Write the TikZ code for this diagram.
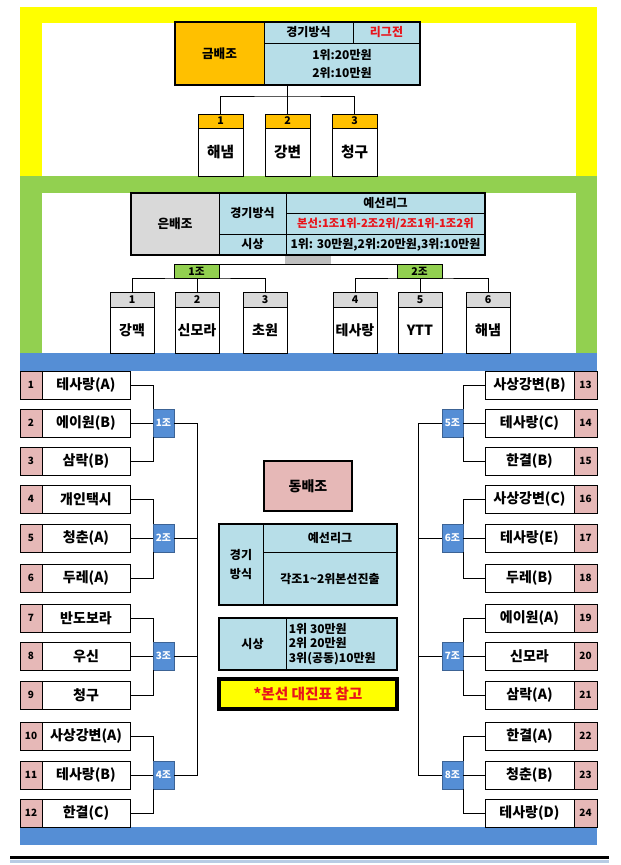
\documentclass[tikz,border=0pt]{standalone}
\usepackage{fontspec}
\setmainfont{Noto Sans CJK KR}
\usetikzlibrary{calc}
\definecolor{cyel}{HTML}{FFFF00}
\definecolor{cgrn}{HTML}{92D050}
\definecolor{cblu}{HTML}{558ED5}
\definecolor{corg}{HTML}{FFC000}
\definecolor{clb}{HTML}{B7DEE8}
\definecolor{cgry}{HTML}{D9D9D9}
\definecolor{cgrytwo}{HTML}{BFBFBF}
\definecolor{cpnk}{HTML}{E6B8B7}
\definecolor{cred}{HTML}{E8141B}
\definecolor{cline}{HTML}{B8CCE4}
\begin{document}
\begin{tikzpicture}[x=0.75pt,y=-0.75pt,
  rc/.style n args={4}{at={({((#1)+(#3))/2},{((#2)+(#4))/2})}, minimum width={((#3)-(#1))*0.75pt}, minimum height={((#4)-(#2))*0.75pt}},
  base/.style={inner sep=0pt, outer sep=0pt, anchor=center},
  tcell/.style={base, draw=black, line width=0.75pt, fill=clb, font=\bfseries\fontsize{9}{14}\selectfont},
  outerb/.style={draw=black, line width=1.8pt},
  conn/.style={draw=black, line width=0.75pt},
  hdrgold/.style={base, draw=black, line width=0.75pt, fill=corg, font=\bfseries\fontsize{8}{9}\selectfont},
  hdrsil/.style={base, draw=black, line width=0.75pt, fill=cgry, font=\bfseries\fontsize{8}{9}\selectfont},
  bodybox/.style={base, draw=black, line width=0.75pt, fill=white, font=\bfseries\fontsize{11}{12}\selectfont},
  numbox/.style={base, draw=black, line width=0.75pt, fill=cpnk, font=\bfseries\fontsize{7.5}{8}\selectfont},
  namebox/.style={base, draw=black, line width=0.75pt, fill=white, font=\bfseries\fontsize{10.5}{12}\selectfont},
  grpblue/.style={base, fill=cblu, draw=cblu!70!black, line width=0.5pt, text=white, font=\bfseries\fontsize{7.5}{8}\selectfont},
  grpgreen/.style={base, fill=cgrn, draw=black, line width=0.75pt, font=\bfseries\fontsize{8}{9}\selectfont}]
\useasboundingbox (0,0) rectangle (621,865);
% ---------- backgrounds ----------
\fill[white] (0,0) rectangle (621,865);
\fill[cyel] (20,7) rectangle (597,176);
\fill[white] (42,23) rectangle (576,176);
\fill[cgrn] (20,176) rectangle (597,353);
\fill[white] (42,193) rectangle (576,353);
\fill[cblu] (20,353) rectangle (597,371);
\fill[cblu] (20,827) rectangle (597,845);
\fill[black] (10,856) rectangle (609,859);
\fill[cline] (10,860) rectangle (609,863);
% ---------- gold ----------
\node[tcell, fill=corg, font=\bfseries\fontsize{9.5}{11}\selectfont, rc={175}{22}{264}{85}] (gT) {금배조};
\node[tcell, rc={264}{22}{353}{43}] (gM) {경기방식};
\node[tcell, text=cred, rc={353}{22}{420}{43}] (gL) {리그전};
\node[tcell, align=center, rc={264}{43}{420}{85}] (gP) {1위:20만원\\2위:10만원};
\draw[outerb] (gT.north west) rectangle (gP.south east);
\foreach \k/\x/\nm in {1/198/해냄,2/265/강변,3/332/청구}{
  \node[hdrgold, rc={\x}{114}{\x+45}{128}] (B\k h) {\k};
  \node[bodybox, rc={\x}{128}{\x+45}{176}] (B\k) {\nm};
}
\coordinate (gJ) at (287.5,96);
\draw[conn] (B1h.north) |- (gJ) -| (B3h.north);
\draw[conn] (B2h.north) -- (B2h.north |- gP.south);
% ---------- silver ----------
\node[tcell, fill=cgry, font=\bfseries\fontsize{9.5}{11}\selectfont, rc={131}{193}{219}{255}] (sT) {은배조};
\node[tcell, rc={219}{193}{286}{234}] (sM) {경기방식};
\node[tcell, rc={286}{193}{485}{213}] (sY) {예선리그};
\node[tcell, text=cred, font=\bfseries\fontsize{8.5}{10}\selectfont, rc={286}{213}{485}{234}] (sB) {본선:1조1위-2조2위/2조1위-1조2위};
\node[tcell, rc={219}{234}{286}{255}] (sS) {시상};
\node[tcell, rc={286}{234}{485}{255}] (sP) {1위: 30만원,2위:20만원,3위:10만원};
\draw[outerb] (sT.north west) rectangle (sP.south east);
\node[base, fill=cgrytwo, rc={285}{256}{331}{264}] (sG) {};
\node[grpgreen, rc={174}{264}{219}{278}] (S1g) {1조};
\node[grpgreen, rc={397}{264}{442}{278}] (S2g) {2조};
\foreach \k/\x/\nm in {1/110/강맥,2/175/신모라,3/243/초원,4/333/테사랑,5/398/YTT,6/466/해냄}{
  \node[hdrsil, rc={\x}{292}{\x+44}{307}] (SB\k h) {\k};
  \node[bodybox, font=\bfseries\fontsize{10.5}{12}\selectfont, rc={\x}{307}{\x+44}{353}] (SB\k) {\nm};
}
\draw[conn] (S1g.north east) -- (S2g.north west);
\draw[conn] (SB1h.north) |- (S1g.south) -| (SB3h.north);
\draw[conn] (SB2h.north) -- (SB2h.north |- S1g.south);
\draw[conn] (SB4h.north) |- (S2g.south) -| (SB6h.north);
\draw[conn] (SB5h.north) -- (SB5h.north |- S2g.south);
% ---------- bronze rows ----------
\foreach \i/\t/\nm in {1/371/테사랑(A),2/409/에이원(B),3/447/삼락(B),4/485/개인택시,5/524/청춘(A),6/564/두레(A),7/604/반도보라,8/642/우신,9/681/청구,10/722/사상강변(A),11/761/테사랑(B),12/799/한결(C)}{
  \node[numbox, rc={20}{\t}{42}{\t+28}] (N\i) {\i};
  \node[namebox, rc={42}{\t}{130}{\t+28}] (L\i) {\nm};
}
\foreach \i/\t/\nm in {13/371/사상강변(B),14/409/테사랑(C),15/447/한결(B),16/485/사상강변(C),17/524/테사랑(E),18/564/두레(B),19/604/에이원(A),20/642/신모라,21/681/삼락(A),22/722/한결(A),23/761/청춘(B),24/799/테사랑(D)}{
  \node[namebox, rc={485}{\t}{574}{\t+28}] (R\i) {\nm};
  \node[numbox, rc={574}{\t}{597}{\t+28}] (N\i) {\i};
}
\foreach \g/\t in {1/409,2/524,3/642,4/761}{
  \node[grpblue, rc={153}{\t}{174}{\t+28}] (G\g) {\g{}조};
}
\foreach \g/\t in {5/409,6/524,7/642,8/761}{
  \node[grpblue, rc={442}{\t}{463}{\t+28}] (G\g) {\g{}조};
}
\foreach \g/\a/\b/\c in {1/1/2/3,2/4/5/6,3/7/8/9,4/10/11/12}{
  \draw[conn] (L\a.east) -| (G\g.north west);
  \draw[conn] (L\c.east) -| (G\g.south west);
  \draw[conn] (L\b.east) -- (G\g.west);
}
\foreach \g/\a/\b/\c in {5/13/14/15,6/16/17/18,7/19/20/21,8/22/23/24}{
  \draw[conn] (R\a.west) -| (G\g.north east);
  \draw[conn] (R\c.west) -| (G\g.south east);
  \draw[conn] (R\b.west) -- (G\g.east);
}
\coordinate (spL) at (197,0);
\coordinate (spR) at (418,0);
\draw[conn] (G1.east) -- (G1.east -| spL) -- (G4.east -| spL) -- (G4.east);
\draw[conn] (G2.east) -- (G2.east -| spL);
\draw[conn] (G3.east) -- (G3.east -| spL);
\draw[conn] (G5.west) -- (G5.west -| spR) -- (G8.west -| spR) -- (G8.west);
\draw[conn] (G6.west) -- (G6.west -| spR);
\draw[conn] (G7.west) -- (G7.west -| spR);
% ---------- bronze centre ----------
\node[tcell, fill=cpnk, line width=1.8pt, font=\bfseries\fontsize{10.5}{12}\selectfont, rc={264}{461}{352}{511}] (bT) {동배조};
\node[tcell, align=center, rc={219}{524}{263}{605}] (bM) {경기\\방식};
\node[tcell, rc={263}{524}{397}{552}] (bY) {예선리그};
\node[tcell, rc={263}{552}{397}{605}] (bJ) {각조1\textasciitilde{}2위본선진출};
\draw[outerb] (bM.north west) rectangle (bJ.south east);
\node[tcell, rc={219}{618}{286}{670}] (bS) {시상};
\node[tcell, rc={286}{618}{397}{670}] (bP) {};
\node[inner sep=0pt, anchor=west, align=left, font=\bfseries\fontsize{9}{11}\selectfont] (bPt) at ([xshift=2pt]bP.west) {1위 30만원\\2위 20만원\\3위(공동)10만원};
\draw[outerb] (bS.north west) rectangle (bP.south east);
\node[base, fill=cyel, draw=black, line width=2.4pt, text=cred, font=\bfseries\fontsize{11}{12}\selectfont, rc={219}{679}{397}{709}] (bN) {*본선 대진표 참고};
\end{tikzpicture}
\end{document}
